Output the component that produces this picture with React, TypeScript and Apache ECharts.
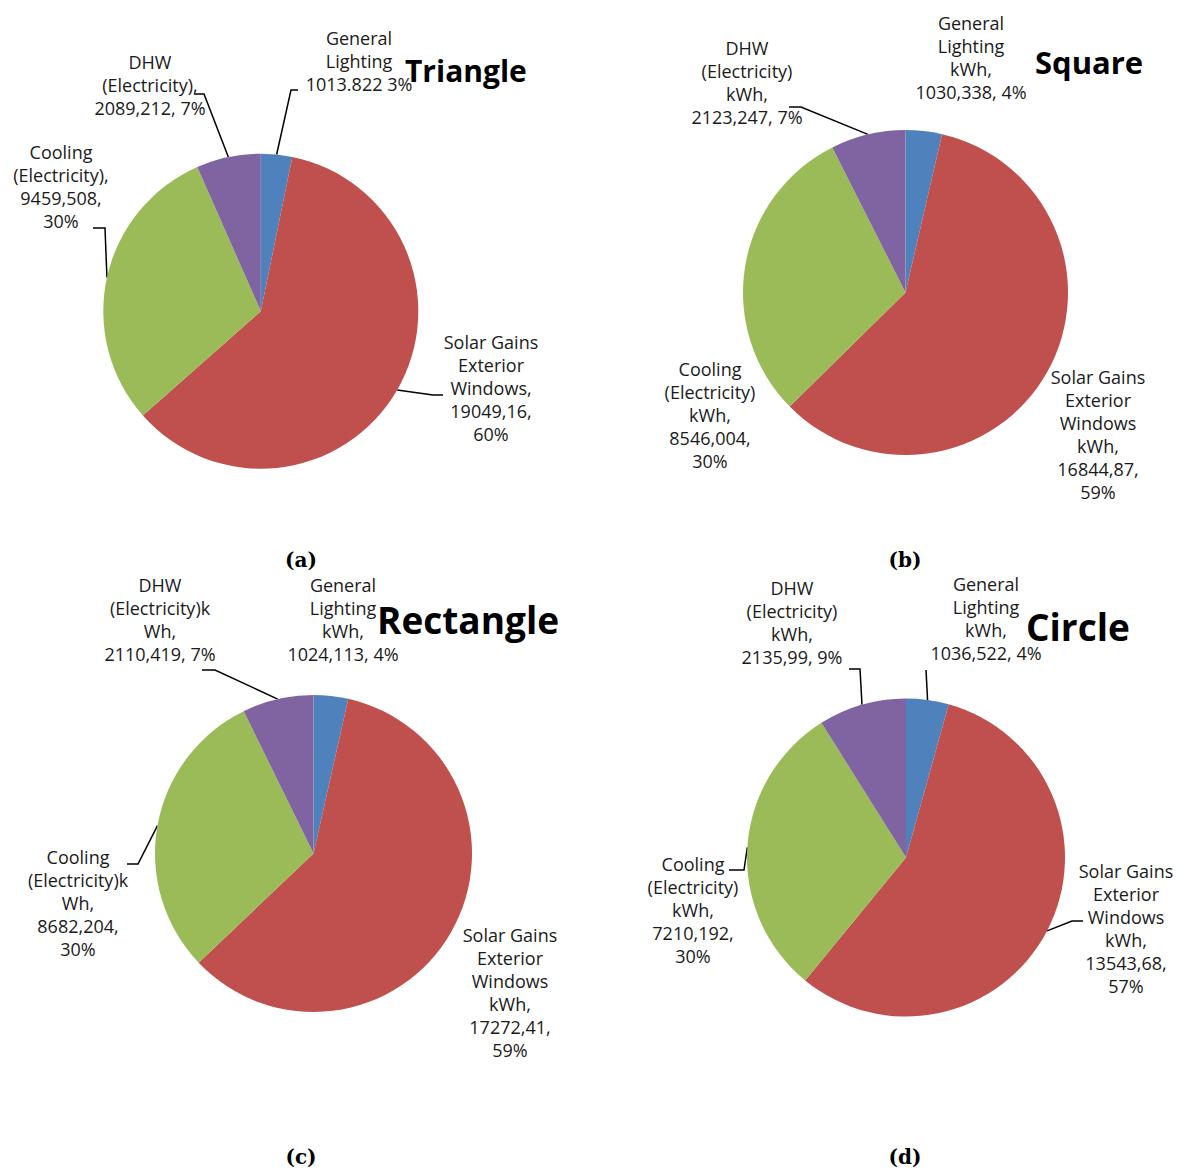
import React, { useEffect, useRef } from "react";
import * as echarts from "echarts";

// ---------- data ----------
const categories = [
  "General Lighting",
  "Solar Gains Exterior Windows",
  "Cooling (Electricity)",
  "DHW (Electricity)",
];
const sliceColors = ["#4F81BD", "#C0504D", "#9BBB59", "#8064A2"];

const triangleValues = [1013.822, 19049.16, 9459.508, 2089.212];
const squareValues = [1030.338, 16844.87, 8546.004, 2123.247];
const rectangleValues = [1024.113, 17272.41, 8682.204, 2110.419];
const circleValues = [1036.522, 13543.68, 7210.192, 2135.99];

const triangleLabels = [
  "General\nLighting\n1013.822 3%",
  "Solar Gains\nExterior\nWindows,\n19049,16,\n60%",
  "Cooling\n(Electricity),\n9459,508,\n30%",
  "DHW\n(Electricity),\n2089,212, 7%",
];
const squareLabels = [
  "General\nLighting\nkWh,\n1030,338, 4%",
  "Solar Gains\nExterior\nWindows\nkWh,\n16844,87,\n59%",
  "Cooling\n(Electricity)\nkWh,\n8546,004,\n30%",
  "DHW\n(Electricity)\nkWh,\n2123,247, 7%",
];
const rectangleLabels = [
  "General\nLighting\nkWh,\n1024,113, 4%",
  "Solar Gains\nExterior\nWindows\nkWh,\n17272,41,\n59%",
  "Cooling\n(Electricity)k\nWh,\n8682,204,\n30%",
  "DHW\n(Electricity)k\nWh,\n2110,419, 7%",
];
const circleLabels = [
  "General\nLighting\nkWh,\n1036,522, 4%",
  "Solar Gains\nExterior\nWindows\nkWh,\n13543,68,\n57%",
  "Cooling\n(Electricity)\nkWh,\n7210,192,\n30%",
  "DHW\n(Electricity)\nkWh,\n2135,99, 9%",
];

const chartTitles = ["Triangle", "Square", "Rectangle", "Circle"];
const panelTags = ["(a)", "(b)", "(c)", "(d)"];

// ---------- layout (positions / styles only) ----------
type LabelPos = { x: number; y: number; end?: [number, number]; elbow?: number };
type Panel = {
  values: number[];
  labels: string[];
  title: string;
  tag: string;
  center: [number, number];
  radius: number;
  titlePos: { x: number; y: number; size: number };
  tagPos: { x: number; y: number };
  labelPos: LabelPos[];
};

const panels: Panel[] = [
  {
    values: triangleValues,
    labels: triangleLabels,
    title: chartTitles[0],
    tag: panelTags[0],
    center: [260.8, 311.2],
    radius: 157.5,
    titlePos: { x: 405, y: 70, size: 30 },
    tagPos: { x: 301, y: 560 },
    labelPos: [
      { x: 359, y: 26.5, end: [-61, 63.5], elbow: -7 },
      { x: 491, y: 330.5, end: [-48, 64.5], elbow: -10 },
      { x: 61, y: 140.5, end: [32, 87.5], elbow: 12 },
      { x: 150, y: 50.5, end: [44, 43.5], elbow: 10 },
    ],
  },
  {
    values: squareValues,
    labels: squareLabels,
    title: chartTitles[1],
    tag: panelTags[1],
    center: [905.5, 292.5],
    radius: 162.5,
    titlePos: { x: 1035, y: 62, size: 31 },
    tagPos: { x: 905, y: 560 },
    labelPos: [
      { x: 971, y: 11.5 },
      { x: 1098, y: 365.5 },
      { x: 710, y: 357.5 },
      { x: 747, y: 36.5, end: [42, 70.5], elbow: 12 },
    ],
  },
  {
    values: rectangleValues,
    labels: rectangleLabels,
    title: chartTitles[2],
    tag: panelTags[2],
    center: [313.5, 853.5],
    radius: 158.5,
    titlePos: { x: 377, y: 619, size: 37 },
    tagPos: { x: 301, y: 1157 },
    labelPos: [
      { x: 343, y: 573.5 },
      { x: 510, y: 923.5 },
      { x: 78, y: 845.5, end: [49, 18.5], elbow: 11 },
      { x: 160, y: 573.5, end: [42, 96.5], elbow: 13 },
    ],
  },
  {
    values: circleValues,
    labels: circleLabels,
    title: chartTitles[3],
    tag: panelTags[3],
    center: [906, 857.5],
    radius: 159,
    titlePos: { x: 1026, y: 626, size: 37 },
    tagPos: { x: 905, y: 1157 },
    labelPos: [
      { x: 986, y: 572.5, end: [-60, 97.5], elbow: 0 },
      { x: 1126, y: 859.5, end: [-43, 61.5], elbow: -11 },
      { x: 693, y: 852.5, end: [36, 17.5], elbow: 15 },
      { x: 792, y: 576.5, end: [57, 92.5], elbow: 11 },
    ],
  },
];

const LABEL_FONT = '"Open Sans", "Liberation Sans", sans-serif';

function midEdgePoint(p: Panel, idx: number): number[] {
  const total = p.values.reduce((a, b) => a + b, 0);
  let before = 0;
  for (let i = 0; i < idx; i++) before += p.values[i];
  const frac = (before + p.values[idx] / 2) / total;
  const ang = frac * Math.PI * 2;
  return [p.center[0] + p.radius * Math.sin(ang), p.center[1] - p.radius * Math.cos(ang)];
}

function buildOption() {
  const series = panels.map((p) => ({
    type: "pie",
    name: p.title,
    center: p.center,
    radius: p.radius,
    startAngle: 90,
    clockwise: true,
    avoidLabelOverlap: false,
    silent: true,
    data: p.values.map((v, i) => ({
      name: categories[i],
      value: v,
      itemStyle: { color: sliceColors[i] },
      labelLine: { show: !!p.labelPos[i].end },
    })),
    label: {
      show: true,
      position: "outside",
      formatter: (prm: any) => p.labels[prm.dataIndex],
      fontFamily: LABEL_FONT,
      fontSize: 18,
      lineHeight: 23,
      color: "#1a1a1a",
      align: "center",
    },
    labelLine: {
      show: true,
      length: 10,
      length2: 10,
      lineStyle: { color: "#000", width: 1.5 },
    },
    labelLayout: (params: any) => {
      const L = p.labelPos[params.dataIndex];
      const res: any = { x: L.x, y: L.y, align: "center", verticalAlign: "top" };
      if (L.end) {
        const ex = L.x + L.end[0];
        const ey = L.y + L.end[1];
        const start =
          params.labelLinePoints && params.labelLinePoints[0]
            ? params.labelLinePoints[0]
            : midEdgePoint(p, params.dataIndex);
        res.labelLinePoints = [start, [ex + (L.elbow || 0), ey], [ex, ey]];
      }
      return res;
    },
  }));

  const graphic: any[] = [];
  panels.forEach((p) => {
    graphic.push({
      type: "text",
      x: p.titlePos.x,
      y: p.titlePos.y,
      z: 10,
      style: {
        text: p.title,
        font: `bold ${p.titlePos.size}px "Open Sans", "Liberation Sans", sans-serif`,
        fill: "#000",
        align: "left",
        verticalAlign: "middle",
      },
    });
    graphic.push({
      type: "text",
      x: p.tagPos.x,
      y: p.tagPos.y,
      z: 10,
      style: {
        text: p.tag,
        font: 'bold 20px "DejaVu Serif", serif',
        fill: "#000",
        align: "center",
        verticalAlign: "middle",
      },
    });
  });

  return {
    animation: false,
    backgroundColor: "#ffffff",
    series,
    graphic,
  };
}

export default function App() {
  const ref = useRef<HTMLDivElement>(null);
  useEffect(() => {
    if (!ref.current) return;
    const chart = echarts.init(ref.current, undefined, { renderer: "svg" });
    chart.setOption(buildOption() as any);
    return () => chart.dispose();
  }, []);
  return (
    <div
      ref={ref}
      style={{ position: "absolute", left: 0, top: 0, width: 1183, height: 1170, background: "#fff" }}
    />
  );
}
